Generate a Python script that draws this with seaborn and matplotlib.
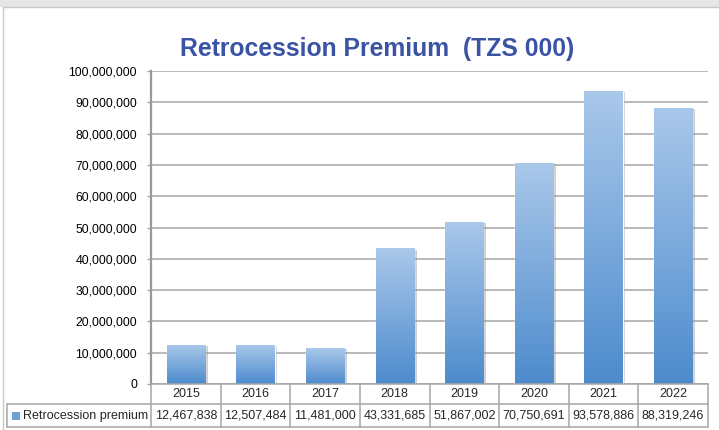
import numpy as np
import pandas as pd
import matplotlib
matplotlib.use("Agg")
import matplotlib.pyplot as plt
import matplotlib.patheffects as pe
from matplotlib.colors import LinearSegmentedColormap
from matplotlib.patches import Rectangle
from matplotlib.transforms import blended_transform_factory
import seaborn as sns

years = ["2015", "2016", "2017", "2018", "2019", "2020", "2021", "2022"]
premium = [12467838, 12507484, 11481000, 43331685, 51867002, 70750691, 93578886, 88319246]
series_name = "Retrocession premium"
title = "Retrocession Premium  (TZS 000)"

df = pd.DataFrame({"year": years, "premium": premium})

sns.set_theme(style="white")
plt.rcParams["font.family"] = ["Liberation Sans", "DejaVu Sans"]

grid_col = "#a6a6a6"
top_blue = "#aac8ea"
bot_blue = "#4d8bcd"
cmap = LinearSegmentedColormap.from_list("bar", [bot_blue, top_blue])

fig = plt.figure(figsize=(7.19, 4.30), dpi=100)
fig.patch.set_facecolor("white")
ax = fig.add_axes([151 / 719, 1 - 384 / 430, 557 / 719, 313 / 430])

sns.barplot(data=df, x="year", y="premium", ax=ax, color=bot_blue, width=0.55,
            saturation=1, zorder=3)

ax.set_ylim(0, 100_000_000)
ax.set_xlim(-0.5, len(years) - 0.5)
ax.set_yticks(np.arange(0, 100_000_001, 10_000_000))
ax.yaxis.set_major_formatter(matplotlib.ticker.FuncFormatter(lambda v, p: f"{int(v):,}"))
ax.tick_params(axis="y", labelsize=8.8, colors="#000000", length=3, width=1,
               color=grid_col, pad=7, left=True)
ax.set_xticks([])
ax.set_xlabel("")
ax.set_ylabel("")
ax.yaxis.grid(True, color=grid_col, linewidth=1.1, zorder=0)
ax.set_axisbelow(True)
for s in ["top", "right", "bottom"]:
    ax.spines[s].set_visible(False)
ax.spines["left"].set_color("#999999")
ax.spines["left"].set_linewidth(1.6)

# gradient fill per bar, with a soft shadow
grad = np.linspace(0, 1, 256).reshape(-1, 1)
for bar in ax.patches:
    x0, y0 = bar.get_x(), bar.get_y()
    w, h = bar.get_width(), bar.get_height()
    bar.set_path_effects([pe.SimplePatchShadow(offset=(2, -1), shadow_rgbFace="#777777", alpha=0.35),
                          pe.Normal()])
    im = ax.imshow(grad, extent=[x0, x0 + w, y0, y0 + h], aspect="auto", cmap=cmap,
                   origin="lower", zorder=4)
    im.set_clip_path(bar)

fig.text(0.524, 1 - 49 / 430, title, ha="center", va="center", fontsize=17.8,
         fontweight="bold", color="#3a53a5")

# data table under the axis
tr = blended_transform_factory(ax.transData, fig.transFigure)
y_top, y_mid, y_bot = 1 - 384 / 430, 1 - 404 / 430, 1 - 427 / 430
line_kw = dict(color=grid_col, linewidth=1.1, transform=fig.transFigure, clip_on=False)
fig.add_artist(plt.Line2D([151 / 719, 708 / 719], [y_top, y_top], **line_kw))
fig.add_artist(plt.Line2D([7 / 719, 708 / 719], [y_mid, y_mid], **line_kw))
fig.add_artist(plt.Line2D([7 / 719, 708 / 719], [y_bot, y_bot], **line_kw))
fig.add_artist(plt.Line2D([7 / 719, 7 / 719], [y_bot, y_mid], **line_kw))
for i in range(len(years) + 1):
    fig.add_artist(plt.Line2D([i - 0.5, i - 0.5], [y_bot, y_top], color=grid_col,
                              linewidth=1.1, transform=tr, clip_on=False))
for i, (yr, v) in enumerate(zip(years, premium)):
    fig.text(i, (y_top + y_mid) / 2, yr, transform=tr, ha="center", va="center", fontsize=9)
    fig.text(i, (y_mid + y_bot) / 2, f"{v:,}", transform=tr, ha="center", va="center", fontsize=9)
fig.add_artist(Rectangle((12 / 719, 1 - 420 / 430), 8 / 719, 8 / 430, transform=fig.transFigure,
                         facecolor="#6d9fd8", edgecolor="none"))
fig.text(23 / 719, (y_mid + y_bot) / 2, series_name, ha="left", va="center", fontsize=9)

# screenshot frame
fig.add_artist(Rectangle((0, 1 - 7 / 430), 1, 7 / 430, transform=fig.transFigure,
                         facecolor="#e6e6e6", edgecolor="none"))
fig.add_artist(plt.Line2D([3 / 719, 3 / 719], [0, 1 - 7 / 430], color="#c8c8c8",
                          linewidth=1, transform=fig.transFigure))
fig.add_artist(plt.Line2D([3 / 719, 1], [1 - 7 / 430, 1 - 7 / 430], color="#c8c8c8",
                          linewidth=1, transform=fig.transFigure))

fig.savefig("out.png", dpi=100)
